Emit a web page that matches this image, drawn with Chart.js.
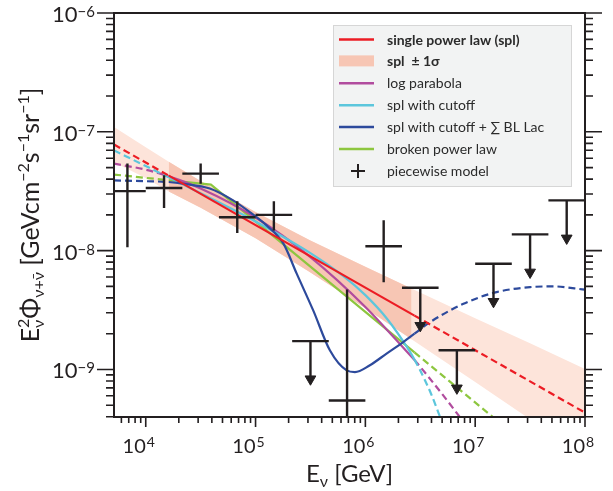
<!DOCTYPE html>
<html>
<head>
<meta charset="utf-8">
<script src="https://cdn.jsdelivr.net/npm/chart.js@4.4.1/dist/chart.umd.min.js"></script>
<style>
  body { margin: 0; background: #fff; }
</style>
</head>
<body>
<canvas id="fluxChart" width="613" height="491"></canvas>
<script>
// axis ranges: energy in GeV, flux in GeV cm^-2 s^-1 sr^-1
const xRange = [5140, 1e8];
const yRange = [3.98e-10, 1e-6];
const xTickExponents = [4, 5, 6, 7, 8];
const yTickExponents = [-9, -8, -7, -6];

// energies where the fitted models are drawn solid
const fitRange = [16200, 2.8e6];

// single power law
const splX = [5140, 16200, 2.8e6, 1e8];
const splY = [7.82e-8, 4.28e-8, 2.84e-9, 4.33e-10];

// spl +/- 1 sigma band
const bandX = [5140, 1e4, 16200, 31600, 1e5, 316000, 1e6, 2.63e6, 1e7, 3.16e7, 1e8];
const bandUpper = [1.10e-7, 7.41e-8, 5.60e-8, 3.85e-8, 2.11e-8, 1.22e-8, 7.31e-9, 4.80e-9, 2.70e-9, 1.66e-9, 1.01e-9];
const bandLower = [5.55e-8, 4.09e-8, 3.15e-8, 2.30e-8, 1.27e-8, 6.55e-9, 3.27e-9, 1.80e-9, 7.83e-10, 3.81e-10, 1.85e-10];

// log parabola
const lpX = [5140, 1e4, 16200, 31600, 1e5, 316000, 1e6, 2.51e6, 2.8e6, 5.01e6, 7.94e6];
const lpY = [5.40e-8, 4.80e-8, 4.22e-8, 3.34e-8, 1.90e-8, 8.83e-9, 3.36e-9, 1.34e-9, 1.20e-9, 6.20e-10, 3.56e-10];

// spl with cutoff
const cutX = [5140, 1e4, 16200, 31600, 1e5, 316000, 631000, 1e6, 1.58e6, 2.51e6, 2.8e6, 3.16e6, 3.98e6, 5.01e6];
const cutY = [6.98e-8, 5.15e-8, 4.14e-8, 3.04e-8, 1.76e-8, 9.53e-9, 6.10e-9, 4.22e-9, 2.66e-9, 1.44e-9, 1.21e-9, 9.80e-10, 6.19e-10, 3.56e-10];

// spl with cutoff + sum of BL Lac
const blX = [5140, 1e4, 16200, 21900, 38300, 62400, 88700, 126000, 179000, 237000, 335000, 475000, 676000, 804000,
  1.09e6, 1.56e6, 2.21e6, 2.8e6, 3.88e6, 7.82e6, 1.57e7, 3.16e7, 5.16e7, 1e8];
const blY = [3.90e-8, 3.84e-8, 3.78e-8, 3.66e-8, 3.33e-8, 2.65e-8, 2.11e-8, 1.63e-8, 1.15e-8, 6.40e-9, 3.14e-9, 1.45e-9, 9.82e-10, 9.51e-10,
  1.08e-9, 1.36e-9, 1.70e-9, 2.00e-9, 2.50e-9, 3.57e-9, 4.48e-9, 4.93e-9, 5.00e-9, 4.69e-9];

// broken power law
const bplX = [5140, 16200, 39200, 2.8e6, 1e8];
const bplY = [4.37e-8, 3.91e-8, 3.59e-8, 1.39e-9, 9.1e-11];

// piecewise model: measured bins
const binCenter = [6810, 14680, 31620, 68130, 146800, 681300, 1468000];
const binLow = [4642, 10000, 21544, 46416, 100000, 464159, 1000000];
const binHigh = [10000, 21544, 46416, 100000, 215443, 1000000, 2154435];
const fluxVal = [3.17e-8, 3.37e-8, 4.45e-8, 1.91e-8, 2.00e-8, 5.48e-10, 1.09e-8];
const fluxLow = [1.07e-8, 2.28e-8, 3.66e-8, 1.41e-8, 1.48e-8, 1e-10, 5.43e-9];
const fluxHigh = [5.40e-8, 4.31e-8, 5.40e-8, 2.60e-8, 2.60e-8, 4.72e-9, 1.80e-8];

// piecewise model: upper limits
const ulCenter = [316200, 3162000, 6813000, 14680000, 31620000, 68130000];
const ulLow = [215443, 2154435, 4641589, 1e7, 21544347, 46415888];
const ulHigh = [464159, 4641589, 1e7, 21544347, 46415888, 1e8];
const ulFlux = [1.73e-9, 4.87e-9, 1.45e-9, 7.76e-9, 1.37e-8, 2.65e-8];

const legendLabels = ['single power law (spl)', 'spl  \u00b1 1\u03c3', 'log parabola', 'spl with cutoff',
  'spl with cutoff + \u2211 BL Lac', 'broken power law', 'piecewise model'];

const ink = '#231f20';
const red = '#ec1c24';
const magenta = '#b14c9e';
const cyan = '#5cc6dc';
const blue = '#2d4a9c';
const green = '#8dc63f';
const bandLight = 'rgb(253,228,218)';
const bandDark = 'rgb(247,198,180)';
const fontFamily = 'Lato, "Open Sans", sans-serif';
const arrowDrop = 0.48;

function pts(xs, ys) {
    return xs.map((x, i) => ({ x: x, y: ys[i] }));
}

function dashOutsideFit(ctx) {
    const a = ctx.p0.parsed.x, b = ctx.p1.parsed.x;
    const inside = a >= fitRange[0] * 0.99 && b <= fitRange[1] * 1.01;
    return inside ? undefined : [7, 4];
}

function curve(label, xs, ys, color, order, smooth) {
    return {
        label: label,
        data: pts(xs, ys),
        borderColor: color,
        borderWidth: 2.2,
        pointRadius: 0,
        fill: false,
        order: order,
        cubicInterpolationMode: smooth ? 'monotone' : 'default',
        tension: 0,
        segment: { borderDash: dashOutsideFit }
    };
}

function errorBarPoints() {
    const out = [];
    binCenter.forEach((c, i) => {
        out.push({ x: binLow[i], y: fluxVal[i] }, { x: binHigh[i], y: fluxVal[i] }, { x: c, y: null });
        out.push({ x: c, y: fluxLow[i] }, { x: c, y: fluxHigh[i] }, { x: c, y: null });
    });
    ulCenter.forEach((c, i) => {
        out.push({ x: ulLow[i], y: ulFlux[i] }, { x: ulHigh[i], y: ulFlux[i] }, { x: c, y: null });
        out.push({ x: c, y: ulFlux[i] }, { x: c, y: ulFlux[i] * arrowDrop }, { x: c, y: null });
    });
    return out;
}

// rich text with super/subscripts; parts: {t, s, dy, keep}
function richText(ctx, parts, x, y, draw) {
    let cx = x, held = 0;
    parts.forEach(p => {
        ctx.font = (p.bold ? 'bold ' : '') + p.s + 'px ' + fontFamily;
        const w = ctx.measureText(p.t).width;
        if (draw) ctx.fillText(p.t, cx, y - (p.dy || 0));
        if (p.keep) {
            held = w;
        } else {
            cx += Math.max(w, held);
            held = 0;
        }
    });
    return cx - x;
}

const frame = {
    id: 'frame',
    afterDraw(chart) {
        const { ctx, chartArea: a, scales: { x, y } } = chart;
        ctx.save();
        ctx.strokeStyle = ink;
        ctx.fillStyle = ink;
        ctx.lineWidth = 2;
        ctx.strokeRect(a.left, a.top, a.right - a.left, a.bottom - a.top);

        ctx.lineWidth = 1.6;
        ctx.beginPath();
        for (let n = 3; n <= 8; n++) {
            for (let m = 1; m <= 9; m++) {
                const v = m * Math.pow(10, n);
                if (v < xRange[0] * 0.999 || v > xRange[1] * 1.001) continue;
                const px = x.getPixelForValue(v);
                const len = m === 1 ? 10 : 6;
                ctx.moveTo(px, a.bottom);
                ctx.lineTo(px, a.bottom + len);
            }
        }
        for (let n = -10; n <= -6; n++) {
            for (let m = 1; m <= 9; m++) {
                const v = m * Math.pow(10, n);
                if (v < yRange[0] * 0.999 || v > yRange[1] * 1.001) continue;
                const py = y.getPixelForValue(v);
                const len = m === 1 ? 17 : 8;
                ctx.moveTo(a.left - len, py);
                ctx.lineTo(a.left, py);
                ctx.moveTo(a.right, py);
                ctx.lineTo(a.right + len, py);
            }
        }
        ctx.stroke();

        // tick labels
        ctx.textBaseline = 'alphabetic';
        xTickExponents.forEach(e => {
            const px = x.getPixelForValue(Math.pow(10, e));
            ctx.font = '20px ' + fontFamily;
            ctx.textAlign = 'right';
            ctx.fillText('10', px, a.bottom + 36);
            ctx.font = '14px ' + fontFamily;
            ctx.textAlign = 'left';
            ctx.fillText(String(e), px + 1, a.bottom + 30);
        });
        ctx.textAlign = 'left';
        yTickExponents.forEach(e => {
            const py = y.getPixelForValue(Math.pow(10, e));
            const parts = [{ t: '10', s: 22 }, { t: '\u2212' + Math.abs(e), s: 15, dy: 5 }];
            const w = richText(ctx, parts, 0, 0, false);
            richText(ctx, parts, a.left - 19 - w, py + 9, true);
        });

        // axis titles
        const xTitle = [{ t: 'E', s: 24 }, { t: '\u03bd', s: 16, dy: -5 }, { t: ' [GeV]', s: 24 }];
        const xw = richText(ctx, xTitle, 0, 0, false);
        richText(ctx, xTitle, (a.left + a.right) / 2 - xw / 2, 482, true);

        const yTitle = [
            { t: 'E', s: 25 }, { t: '2', s: 16, dy: 10, keep: true }, { t: '\u03bd', s: 16, dy: -5 },
            { t: '\u03a6', s: 25 }, { t: '\u03bd+\u03bd\u0304', s: 16, dy: -5 },
            { t: ' [GeVcm', s: 25 }, { t: '\u22122', s: 16, dy: 10 }, { t: 's', s: 25 },
            { t: '\u22121', s: 16, dy: 10 }, { t: 'sr', s: 25 }, { t: '\u22121', s: 16, dy: 10 }, { t: ']', s: 25 }
        ];
        const yw = richText(ctx, yTitle, 0, 0, false);
        ctx.translate(39, (a.top + a.bottom) / 2);
        ctx.rotate(-Math.PI / 2);
        richText(ctx, yTitle, -yw / 2, 0, true);
        ctx.restore();
    }
};

const legendBox = {
    id: 'legendBox',
    afterDraw(chart) {
        const ctx = chart.ctx;
        const left = 333, top = 25, width = 239, height = 162;
        const kinds = [['line', red], ['patch', bandDark], ['line', magenta], ['line', cyan],
            ['line', blue], ['line', green], ['cross', ink]];
        ctx.save();
        ctx.fillStyle = 'rgba(241,242,242,0.96)';
        ctx.strokeStyle = '#d6d6d6';
        ctx.lineWidth = 1;
        ctx.fillRect(left, top, width, height);
        ctx.strokeRect(left + 0.5, top + 0.5, width - 1, height - 1);
        kinds.forEach((k, i) => {
            const cy = top + 14.5 + i * 21.9;
            if (k[0] === 'line') {
                ctx.strokeStyle = k[1];
                ctx.lineWidth = 2.5;
                ctx.beginPath();
                ctx.moveTo(339, cy);
                ctx.lineTo(374, cy);
                ctx.stroke();
            } else if (k[0] === 'patch') {
                ctx.fillStyle = k[1];
                ctx.fillRect(339, cy - 6, 35, 11);
            } else {
                ctx.strokeStyle = k[1];
                ctx.lineWidth = 2;
                ctx.beginPath();
                ctx.moveTo(351, cy);
                ctx.lineTo(365, cy);
                ctx.moveTo(358, cy - 7);
                ctx.lineTo(358, cy + 7);
                ctx.stroke();
            }
            ctx.fillStyle = '#2b2b2b';
            ctx.font = (i < 2 ? 'bold ' : '') + '14px ' + fontFamily;
            ctx.textAlign = 'left';
            ctx.fillText(legendLabels[i], 387, cy + 5);
        });
        ctx.restore();
    }
};

const darkX = bandX.slice(2, 8);

new Chart(document.getElementById('fluxChart'), {
    type: 'line',
    data: {
        datasets: [
            { data: pts(bandX, bandUpper), borderWidth: 0, pointRadius: 0, fill: false, order: 20 },
            { data: pts(bandX, bandLower), borderWidth: 0, pointRadius: 0, fill: '-1', backgroundColor: bandLight, order: 20 },
            { data: pts(darkX, bandUpper.slice(2, 8)), borderWidth: 0, pointRadius: 0, fill: false, order: 19 },
            { data: pts(darkX, bandLower.slice(2, 8)), borderWidth: 0, pointRadius: 0, fill: '-1', backgroundColor: bandDark, order: 19 },
            curve('broken power law', bplX, bplY, green, 7, false),
            curve('log parabola', lpX, lpY, magenta, 6, true),
            curve('spl with cutoff', cutX, cutY, cyan, 5, true),
            curve('spl with cutoff + BL Lac', blX, blY, blue, 4, true),
            curve('single power law', splX, splY, red, 3, false),
            {
                label: 'piecewise model',
                data: errorBarPoints(),
                borderColor: ink,
                borderWidth: 2.4,
                pointRadius: 0,
                spanGaps: false,
                fill: false,
                tension: 0,
                order: 1
            },
            {
                label: 'upper limit arrows',
                data: ulCenter.map((c, i) => ({ x: c, y: ulFlux[i] * arrowDrop })),
                showLine: false,
                pointStyle: 'triangle',
                rotation: 180,
                pointRadius: 6.2,
                pointBackgroundColor: ink,
                pointBorderColor: ink,
                pointBorderWidth: 1,
                order: 0
            }
        ]
    },
    options: {
        responsive: false,
        animation: false,
        devicePixelRatio: 1,
        layout: { padding: { left: 114, right: 28, top: 13, bottom: 74 } },
        scales: {
            x: { type: 'logarithmic', min: xRange[0], max: xRange[1], display: false },
            y: { type: 'logarithmic', min: yRange[0], max: yRange[1], display: false }
        },
        plugins: {
            legend: { display: false },
            tooltip: { enabled: false }
        }
    },
    plugins: [frame, legendBox]
});
</script>
</body>
</html>
